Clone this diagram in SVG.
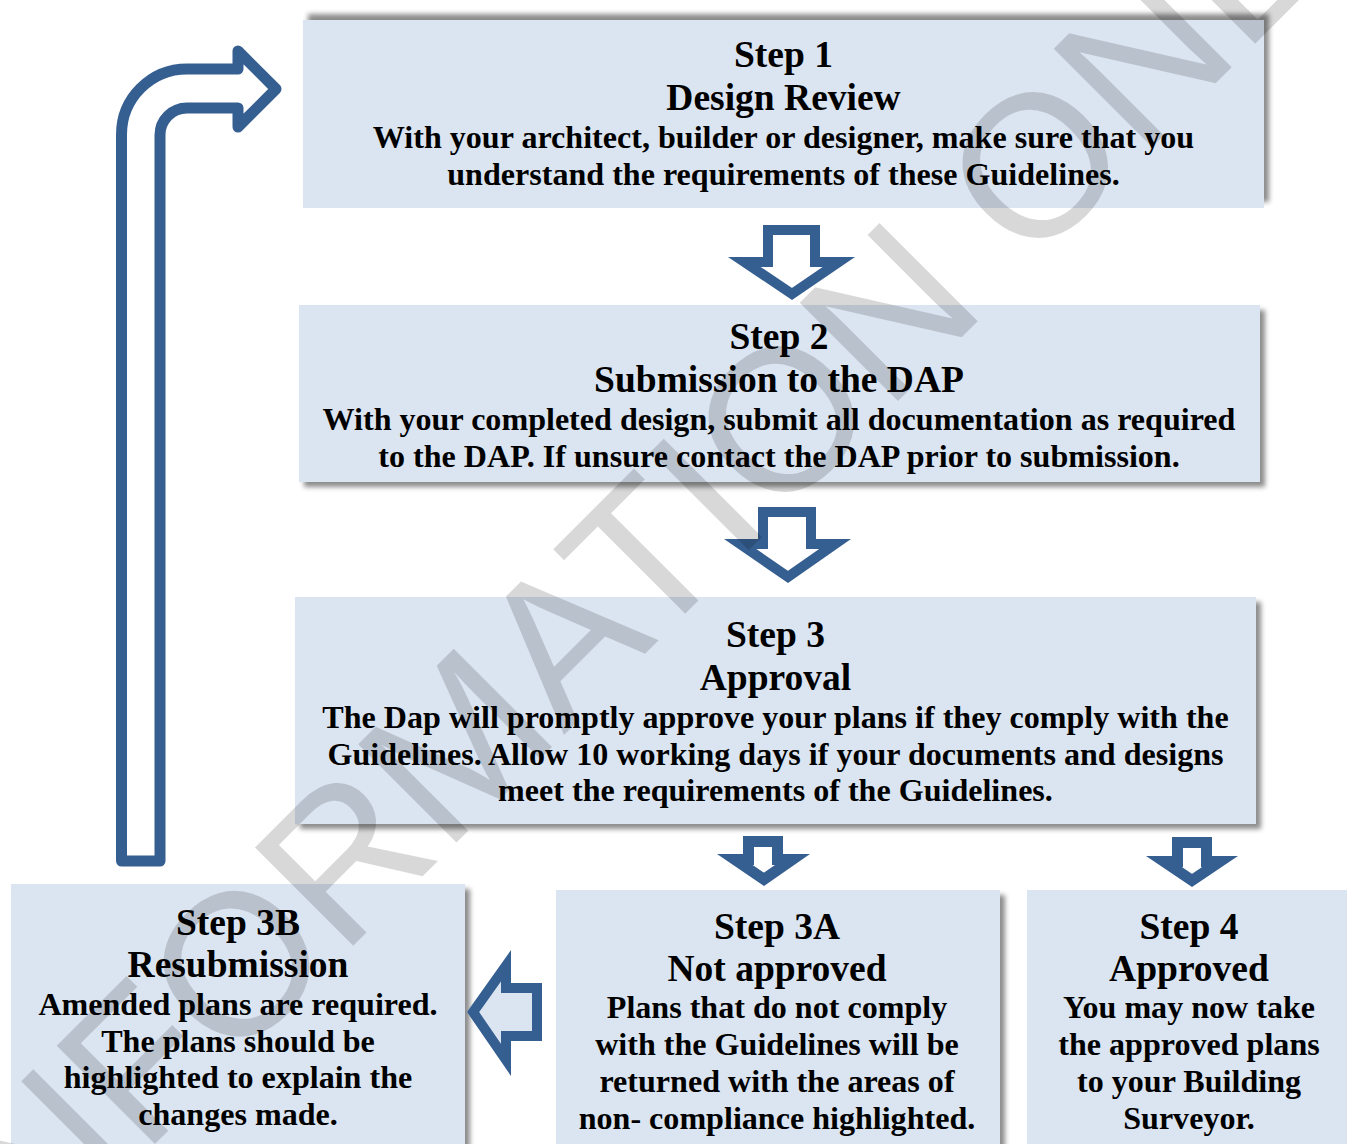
<svg xmlns="http://www.w3.org/2000/svg" xmlns:xlink="http://www.w3.org/1999/xlink" width="1347" height="1144" viewBox="0 0 1347 1144">
  <style>
    .box{fill:#dbe5f1}
    .t{font:bold 37.5px "Liberation Serif","Times New Roman",serif;text-anchor:middle;fill:#000}
    .b{font:bold 32.1px "Liberation Serif","Times New Roman",serif;text-anchor:middle;fill:#000}
    .arr{stroke:#365f91;stroke-width:20;fill:#fff}
    .arr-s{stroke:#365f91;stroke-width:22;fill:#fff}
    .wm{font:202px "Liberation Sans",Arial,sans-serif;fill:#000}
  </style>
  <defs>
    <filter id="shDown" x="-5%" y="-10%" width="115%" height="125%">
      <feGaussianBlur in="SourceAlpha" stdDeviation="2.5"/>
      <feOffset dx="5" dy="5" result="o"/>
      <feFlood flood-color="#000" flood-opacity="0.45"/>
      <feComposite in2="o" operator="in"/>
      <feMerge><feMergeNode/><feMergeNode in="SourceGraphic"/></feMerge>
    </filter>
    <filter id="shUp" x="-5%" y="-15%" width="115%" height="125%">
      <feGaussianBlur in="SourceAlpha" stdDeviation="2.5"/>
      <feOffset dx="5" dy="-6" result="o"/>
      <feFlood flood-color="#000" flood-opacity="0.45"/>
      <feComposite in2="o" operator="in"/>
      <feMerge><feMergeNode/><feMergeNode in="SourceGraphic"/></feMerge>
    </filter>
    <!-- block arrow outlines; strokes are clipped to the shape so they sit inside -->
    <polygon id="a1" points="763,225 820,225 820,257 855,257 792,300 728,257 763,257"/>
    <polygon id="a2" points="758,507 816,507 816,539 851,539 788,583 724,539 758,539"/>
    <polygon id="a3" points="743,836 783,836 783,854 810,854 764,886 717,854 743,854"/>
    <polygon id="a4" points="1172,837 1212,837 1212,856 1238,856 1192,887 1146,856 1172,856"/>
    <polygon id="a5" points="542,983 542,1041 511,1041 511,1076 467,1012 511,950 511,983"/>
    <clipPath id="c1"><use xlink:href="#a1"/></clipPath>
    <clipPath id="c2"><use xlink:href="#a2"/></clipPath>
    <clipPath id="c3"><use xlink:href="#a3"/></clipPath>
    <clipPath id="c4"><use xlink:href="#a4"/></clipPath>
    <clipPath id="c5"><use xlink:href="#a5"/></clipPath>
  </defs>

  <rect width="1347" height="1144" fill="#fff"/>

  <g id="step1">
    <rect class="box" x="303" y="20" width="961" height="188" filter="url(#shUp)"/>
    <text class="t" x="783.5" y="67">Step 1</text>
    <text class="t" x="783.5" y="110">Design Review</text>
    <text class="b" x="783.5" y="148">With your architect, builder or designer, make sure that you</text>
    <text class="b" x="783.5" y="185">understand the requirements of these Guidelines.</text>
  </g>

  <g id="step2">
    <rect class="box" x="299" y="305" width="961" height="177" filter="url(#shDown)"/>
    <text class="t" x="779" y="349">Step 2</text>
    <text class="t" x="779" y="392">Submission to the DAP</text>
    <text class="b" x="779" y="430">With your completed design, submit all documentation as required</text>
    <text class="b" x="779" y="467">to the DAP. If unsure contact the DAP prior to submission.</text>
  </g>

  <g id="step3">
    <rect class="box" x="295" y="597" width="961" height="227" filter="url(#shDown)"/>
    <text class="t" x="775.5" y="647">Step 3</text>
    <text class="t" x="775.5" y="690">Approval</text>
    <text class="b" x="775.5" y="728">The Dap will promptly approve your plans if they comply with the</text>
    <text class="b" x="775.5" y="765">Guidelines. Allow 10 working days if your documents and designs</text>
    <text class="b" x="775.5" y="801">meet the requirements of the Guidelines.</text>
  </g>

  <g id="step3b">
    <rect class="box" x="11" y="884" width="454" height="275" filter="url(#shDown)"/>
    <text class="t" x="238" y="935">Step 3B</text>
    <text class="t" x="238" y="977">Resubmission</text>
    <text class="b" x="238" y="1015">Amended plans are required.</text>
    <text class="b" x="238" y="1052">The plans should be</text>
    <text class="b" x="238" y="1088">highlighted to explain the</text>
    <text class="b" x="238" y="1125">changes made.</text>
  </g>

  <g id="step3a">
    <rect class="box" x="556" y="890" width="444" height="270" filter="url(#shDown)"/>
    <text class="t" x="777" y="939">Step 3A</text>
    <text class="t" x="777" y="981">Not approved</text>
    <text class="b" x="777" y="1018">Plans that do not comply</text>
    <text class="b" x="777" y="1055">with the Guidelines will be</text>
    <text class="b" x="777" y="1092">returned with the areas of</text>
    <text class="b" x="777" y="1129">non- compliance highlighted.</text>
  </g>

  <g id="step4">
    <rect class="box" x="1027" y="890" width="330" height="270" filter="url(#shDown)"/>
    <text class="t" x="1189" y="939">Step 4</text>
    <text class="t" x="1189" y="981">Approved</text>
    <text class="b" x="1189" y="1018">You may now take</text>
    <text class="b" x="1189" y="1055">the approved plans</text>
    <text class="b" x="1189" y="1092">to your Building</text>
    <text class="b" x="1189" y="1129">Surveyor.</text>
  </g>

  <g id="connectors">
    <use xlink:href="#a1" class="arr" clip-path="url(#c1)"/>
    <use xlink:href="#a2" class="arr" clip-path="url(#c2)"/>
    <use xlink:href="#a3" class="arr-s" clip-path="url(#c3)"/>
    <use xlink:href="#a4" class="arr-s" clip-path="url(#c4)"/>
    <use xlink:href="#a5" class="arr" clip-path="url(#c5)" style="fill:#dbe5f1"/>
    <!-- return arrow from Step 3B back up to Step 1 -->
    <path d="M160,861 L160,135 A27,27 0 0 1 187,108 L238,108 L238,127 L276,89 L238,51 L238,69 L187,69 A65.5,65.5 0 0 0 121.5,134.5 L121.5,861 Z" fill="none" stroke="#365f91" stroke-width="11" stroke-linejoin="round"/>
  </g>

  <g id="watermark" opacity="0.15">
    <text class="wm" x="-404" y="0" transform="translate(286,1013) rotate(-45)">INFORMATION ONLY</text>
  </g>
</svg>
